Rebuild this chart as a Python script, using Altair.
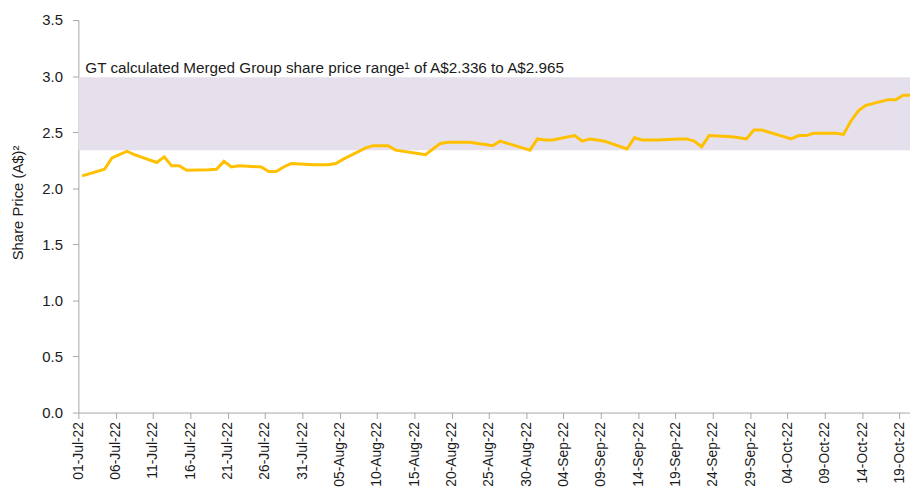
import altair as alt
import pandas as pd

# Trading dates and share prices (A$)
dates = [
    "2022-07-01", "2022-07-04", "2022-07-05", "2022-07-06", "2022-07-07", "2022-07-08",
    "2022-07-11", "2022-07-12", "2022-07-13", "2022-07-14", "2022-07-15",
    "2022-07-18", "2022-07-19", "2022-07-20", "2022-07-21", "2022-07-22",
    "2022-07-25", "2022-07-26", "2022-07-27", "2022-07-28", "2022-07-29",
    "2022-08-01", "2022-08-02", "2022-08-03", "2022-08-04", "2022-08-05",
    "2022-08-08", "2022-08-09", "2022-08-10", "2022-08-11", "2022-08-12",
    "2022-08-15", "2022-08-16", "2022-08-17", "2022-08-18", "2022-08-19",
    "2022-08-22", "2022-08-23", "2022-08-24", "2022-08-25", "2022-08-26",
    "2022-08-29", "2022-08-30", "2022-08-31", "2022-09-01", "2022-09-02",
    "2022-09-05", "2022-09-06", "2022-09-07", "2022-09-08", "2022-09-09",
    "2022-09-12", "2022-09-13", "2022-09-14", "2022-09-15", "2022-09-16",
    "2022-09-19", "2022-09-20", "2022-09-21", "2022-09-22", "2022-09-23",
    "2022-09-26", "2022-09-27", "2022-09-28", "2022-09-29", "2022-09-30",
    "2022-10-03", "2022-10-04", "2022-10-05", "2022-10-06", "2022-10-07",
    "2022-10-10", "2022-10-11", "2022-10-12", "2022-10-13", "2022-10-14",
    "2022-10-17", "2022-10-18", "2022-10-19", "2022-10-20",
]
prices = [
    2.11, 2.17, 2.27, 2.30, 2.33, 2.30,
    2.23, 2.28, 2.20, 2.20, 2.16,
    2.165, 2.17, 2.24, 2.19, 2.20,
    2.19, 2.15, 2.15, 2.19, 2.22,
    2.21, 2.21, 2.21, 2.22, 2.26,
    2.36, 2.38, 2.38, 2.38, 2.34,
    2.31, 2.30, 2.35, 2.40, 2.41,
    2.41, 2.40, 2.39, 2.38, 2.42,
    2.36, 2.34, 2.44, 2.43, 2.43,
    2.47, 2.42, 2.44, 2.43, 2.42,
    2.35, 2.45, 2.43, 2.43, 2.43,
    2.44, 2.44, 2.42, 2.37, 2.47,
    2.46, 2.45, 2.44, 2.52, 2.52,
    2.46, 2.44, 2.47, 2.47, 2.49,
    2.49, 2.48, 2.60, 2.69, 2.74,
    2.79, 2.79, 2.83, 2.83,
]

# x-axis tick dates (every 5 days)
tick_dates = [
    "2022-07-01", "2022-07-06", "2022-07-11", "2022-07-16", "2022-07-21", "2022-07-26",
    "2022-07-31", "2022-08-05", "2022-08-10", "2022-08-15", "2022-08-20", "2022-08-25",
    "2022-08-30", "2022-09-04", "2022-09-09", "2022-09-14", "2022-09-19", "2022-09-24",
    "2022-09-29", "2022-10-04", "2022-10-09", "2022-10-14", "2022-10-19",
]
y_ticks = [0.0, 0.5, 1.0, 1.5, 2.0, 2.5, 3.0, 3.5]

band_low = 2.34
band_high = 2.99
note_text = "GT calculated Merged Group share price range\u00b9 of A$2.336 to A$2.965"
y_title = "Share Price (A$)\u00b2"

FONT = "Liberation Sans"
TEXT = "#1a1a1a"
AXIS = "#a6a6a6"


def to_dt(s, hours=0):
    t = pd.Timestamp(s)
    return alt.DateTime(year=t.year, month=t.month, date=t.day, hours=hours)


# points sit in the middle of each day slot (Excel "between tick marks")
df = pd.DataFrame({
    "date": pd.to_datetime(dates) + pd.Timedelta(hours=12),
    "price": prices,
})
band_df = pd.DataFrame({"low": [band_low], "high": [band_high]})
note_df = pd.DataFrame({"date": [pd.Timestamp(dates[0])], "y": [band_high], "note": [note_text]})

x_scale = alt.Scale(domain=[to_dt("2022-07-01"), to_dt("2022-10-20", hours=10)])
y_scale = alt.Scale(domain=[0, 3.5], nice=False, zero=True)

x_axis = alt.Axis(
    title=None,
    values=[to_dt(d) for d in tick_dates],
    format="%d-%b-%y",
    labelAngle=-90,
    labelFont=FONT,
    labelFontSize=14,
    labelColor=TEXT,
    labelPadding=3,
    labelFlush=False,
    labelOverlap=False,
    labelBound=False,
    tickSize=6,
    tickColor=AXIS,
    domainColor=AXIS,
    grid=False,
)
y_axis = alt.Axis(
    title=y_title,
    values=y_ticks,
    format=".1f",
    labelFont=FONT,
    labelFontSize=15,
    labelColor=TEXT,
    labelPadding=10,
    tickSize=6,
    tickColor=AXIS,
    domainColor=AXIS,
    grid=False,
    titleFont=FONT,
    titleFontSize=15,
    titleFontWeight="normal",
    titleColor=TEXT,
    titleAngle=270,
    titleAlign="center",
    titleBaseline="middle",
    titleX=-61,
    titleY=184,
)

band = alt.Chart(band_df).mark_rect(color="#E6E0EC").encode(
    y=alt.Y("low:Q", scale=y_scale, axis=y_axis),
    y2="high:Q",
)

line = alt.Chart(df).mark_line(color="#FFC000", strokeWidth=3, clip=True).encode(
    x=alt.X("date:T", scale=x_scale, axis=x_axis),
    y=alt.Y("price:Q", scale=y_scale, axis=y_axis),
)

note = alt.Chart(note_df).mark_text(
    align="left", baseline="alphabetic", dx=7, dy=-4,
    font=FONT, fontSize=15.4, color=TEXT,
).encode(
    x=alt.X("date:T", scale=x_scale, axis=x_axis),
    y=alt.Y("y:Q", scale=y_scale, axis=y_axis),
    text="note:N",
)

chart = alt.layer(band, line, note).properties(
    width=839,
    height=396,
    autosize=alt.AutoSizeParams(type="none"),
    padding={"left": 71, "top": 10, "right": 0, "bottom": 79},
    background="white",
).configure_view(strokeWidth=0)

chart.save("out.html", embed_options={"renderer": "svg", "actions": False})
